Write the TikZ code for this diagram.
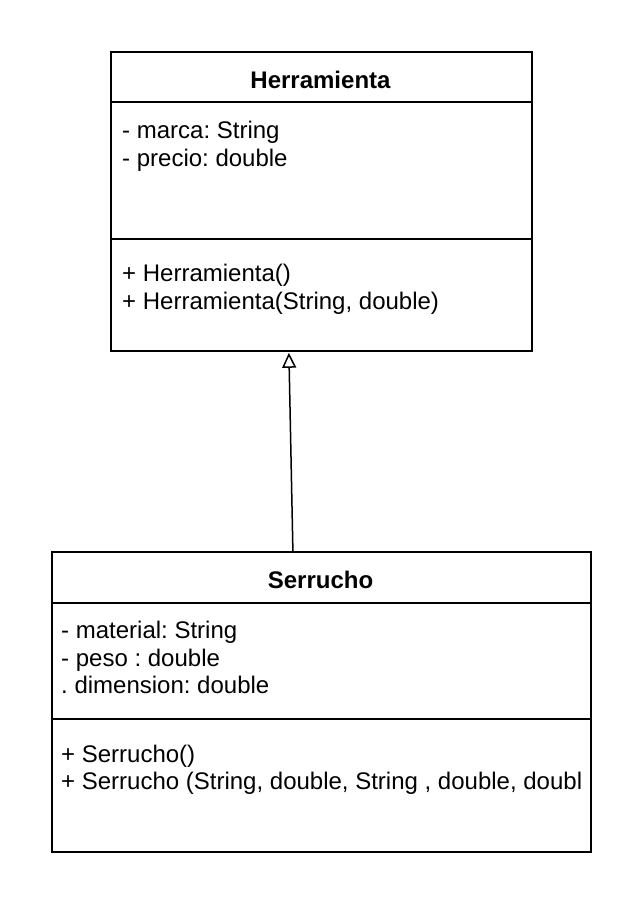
\documentclass[tikz,border=0pt]{standalone}
\usepackage{fontspec}
\setmainfont{Liberation Sans}
\usetikzlibrary{arrows.meta,calc}
\frenchspacing
\begin{document}
\begin{tikzpicture}[x=1pt,y=-1pt,
  box/.style={draw=black,line width=1.8pt,fill=white,minimum width=#1,inner sep=0pt,anchor=north west},
  sep/.style={line width=1.8pt},
  txt/.style={anchor=base west,inner sep=0pt,font=\fontsize{24}{28}\selectfont\frenchspacing},
  ttl/.style={anchor=base,inner sep=0pt,font=\fontsize{24}{28}\selectfont\bfseries},
  inh/.style={line width=1.5pt,-{Triangle[open,length=15pt,width=14pt,line width=1.5pt]}}]
\useasboundingbox[fill=white] (0,0) rectangle (642,908);
% Herramienta
\node[box=421pt,minimum height=299pt] (h) at (110,51) {};
\draw[sep] (110,102) -- (531,102);
\draw[sep] (110,239) -- (531,239);
\node[ttl] (ht) at (320.5,88) {Herramienta};
\node[txt] (h1) at (122,138) {- marca: String};
\node[txt] (h2) at (122,166) {- precio: double};
\node[txt] (h3) at (122,281) {+ Herramienta()};
\node[txt] (h4) at (122,309) {+ Herramienta(String, double)};
% Serrucho
\node[box=539pt,minimum height=300pt] (s) at (51,551) {};
\draw[sep] (51,603) -- (590,603);
\draw[sep] (51,719) -- (590,719);
\node[ttl] (st) at (320.5,588) {Serrucho};
\node[txt] (s1) at (61,638) {- material: String};
\node[txt] (s2) at (61,666) {- peso : double};
\node[txt] (s3) at (61,693) {. dimension: double};
\node[txt] (s4) at (61,762) {+ Serrucho()};
\node[txt] (s5) at (61,789) {+ Serrucho (String, double, String , double, doubl};
% inheritance
\coordinate (a0) at ($(s.north)+(-28.5,0)$);
\coordinate (a1) at ($(h.south)+(-32.5,1)$);
\draw[inh] (a0) -- (a1);
\end{tikzpicture}
\end{document}
